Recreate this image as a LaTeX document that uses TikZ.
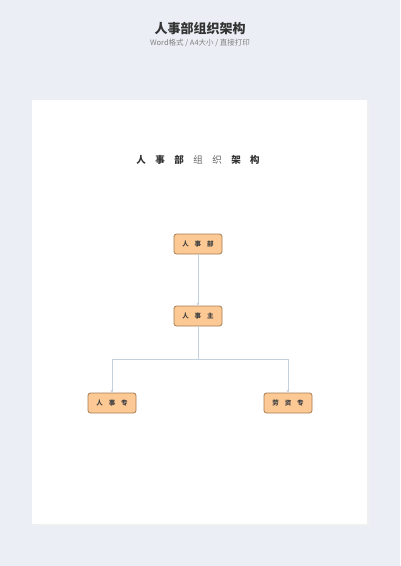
\documentclass[tikz,border=0pt]{standalone}
\usepackage{fontspec}
\setmainfont{Noto Sans CJK SC}
\usetikzlibrary{arrows.meta,shadows}
\definecolor{bg}{HTML}{EBEFF5}
\definecolor{boxfill}{HTML}{FCC894}
\definecolor{boxdraw}{HTML}{A67C52}
\definecolor{linec}{HTML}{C3D0DE}
\tikzset{
  orgbox/.style={draw=boxdraw, fill=boxfill, rounded corners=2.5pt, line width=0.8pt,
    minimum width=48pt, minimum height=20pt, inner sep=0pt, font=\fontsize{6.5}{7}\selectfont\bfseries, text=black!75},
  conn/.style={draw=linec, line width=0.8pt},
  arr/.style={conn, -{Stealth[length=3pt,width=3pt]}}
}
\begin{document}
\begin{tikzpicture}[x=1pt,y=-1pt]
\useasboundingbox (0,0) rectangle (400,566);
\fill[bg] (0,0) rectangle (400,566);
\fill[black!6] (33.5,101.5) rectangle (368.5,525.5);
\fill[white] (32,100) rectangle (367,524);
\node (title) at (200,29) {\fontsize{13}{14}\selectfont\bfseries\color{black!80}人事部组织架构};
\node (sub) at (200,43) {\fontsize{7.5}{8}\selectfont\color{black!50}Word格式 / A4大小 / 直接打印};
\node (head) at (198,160) {\fontsize{9.5}{10}\selectfont\bfseries\color{black!80}人\hspace{9.5pt}事\hspace{9.5pt}部\hspace{9.5pt}\mdseries\color{black!60}组\hspace{9.5pt}织\hspace{9.5pt}\bfseries\color{black!80}架\hspace{9.5pt}构};
\node[orgbox] (a) at (198,244) {人\hspace{6pt}事\hspace{6pt}部};
\node[orgbox] (b) at (198,316) {人\hspace{6pt}事\hspace{6pt}主};
\node[orgbox] (c) at (112,403) {人\hspace{6pt}事\hspace{6pt}专};
\node[orgbox] (d) at (288,403) {劳\hspace{6pt}资\hspace{6pt}专};
\coordinate (j) at (198,359);
\draw[arr] (a.south) -- (b.north);
\draw[conn] (b.south) -- (j);
\draw[arr] (j) -| (c.north);
\draw[arr] (j) -| (d.north);
\end{tikzpicture}
\end{document}
